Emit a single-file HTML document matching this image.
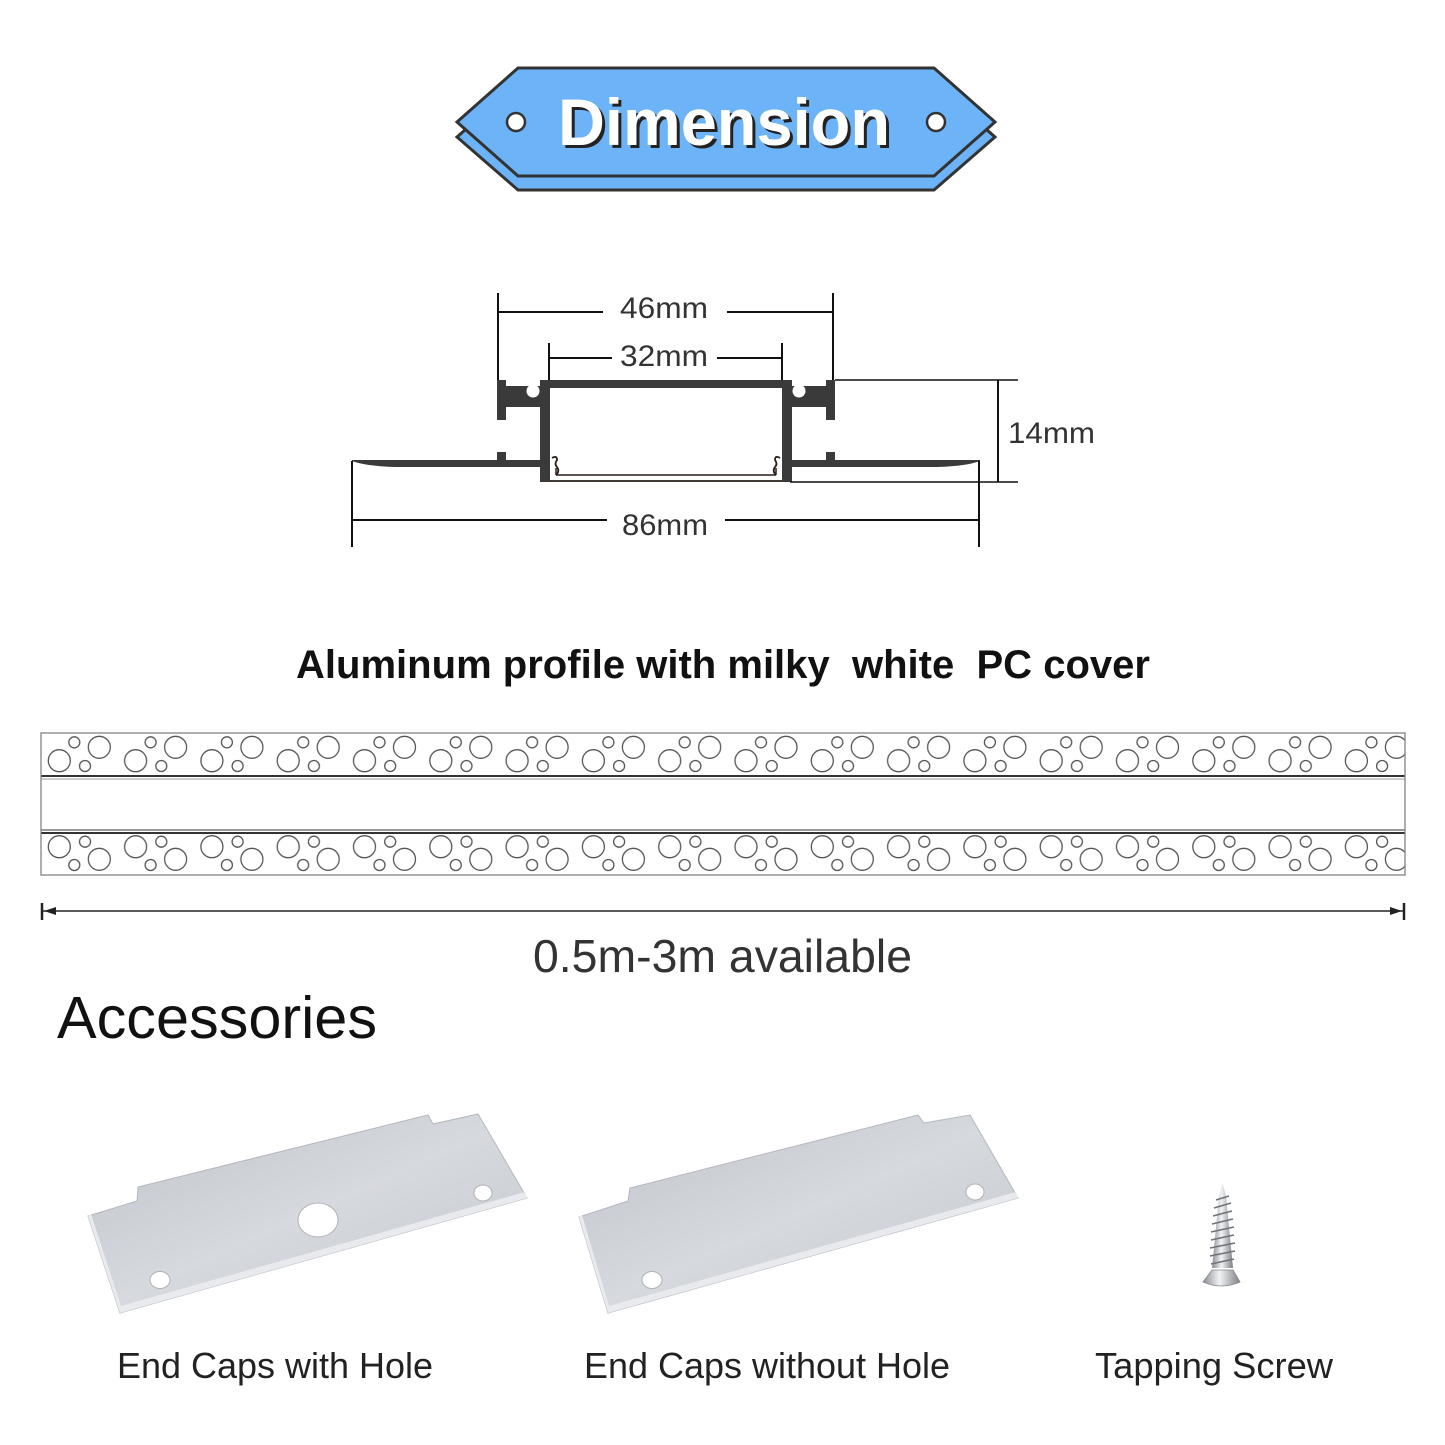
<!DOCTYPE html>
<html><head><meta charset="utf-8"><style>
html,body{margin:0;padding:0;background:#fff;}
svg{display:block;}
text{font-family:"Liberation Sans",Arial,sans-serif;}
</style></head><body>
<svg width="1445" height="1445" viewBox="0 0 1445 1445" xmlns="http://www.w3.org/2000/svg">
<defs>
  <linearGradient id="plate" x1="0" y1="0" x2="1" y2="1">
    <stop offset="0" stop-color="#bfc3ca"/>
    <stop offset="0.5" stop-color="#d6d9de"/>
    <stop offset="1" stop-color="#c3c7ce"/>
  </linearGradient>
  <linearGradient id="silver" x1="0" y1="0" x2="1" y2="0">
    <stop offset="0" stop-color="#8a8d92"/>
    <stop offset="0.45" stop-color="#f2f3f5"/>
    <stop offset="1" stop-color="#7d8086"/>
  </linearGradient>
  <pattern id="pTop" patternUnits="userSpaceOnUse" x="40" y="733" width="76.3" height="43">
    <g fill="none" stroke="#555" stroke-width="1.3">
      <circle cx="19.3" cy="27.7" r="11"/>
      <circle cx="34.3" cy="9.3" r="5.5"/>
      <circle cx="45" cy="33" r="5.5"/>
      <circle cx="59.3" cy="14.3" r="11"/>
    </g>
  </pattern>
  <pattern id="pBot" patternUnits="userSpaceOnUse" x="40" y="833" width="76.3" height="42">
    <g fill="none" stroke="#555" stroke-width="1.3">
      <circle cx="19.3" cy="13.7" r="11"/>
      <circle cx="45" cy="8.7" r="5.5"/>
      <circle cx="34.3" cy="32" r="5.5"/>
      <circle cx="59.3" cy="26.3" r="11"/>
    </g>
  </pattern>
  <g id="halfProfile">
    <rect x="497" y="380" width="9" height="40" fill="#3a3a3a"/>
    <rect x="497" y="386" width="45" height="21" fill="#3a3a3a"/>
    <rect x="540" y="380" width="10" height="102" fill="#3a3a3a"/>
    <circle cx="533" cy="391" r="6.5" fill="#fff"/>
    <rect x="497" y="452" width="9" height="9" fill="#3a3a3a"/>
    <path d="M352,460 L541,460 L541,467 L395,467 Q365,466 352,461 Z" fill="#3a3a3a"/>
    <path d="M552,458 q5,-3 5,2 q-3,4 0,7 q3,4 -1,8" fill="none" stroke="#2a1f1a" stroke-width="1.8"/>
    <line x1="556" y1="468" x2="556" y2="475" stroke="#2a1f1a" stroke-width="1.5"/>
  </g>
</defs>

<!-- Banner -->
<polygon points="457,137 518,83 934,83 995,137 934,190 518,190" fill="#6db3f7" stroke="#333" stroke-width="3" stroke-linejoin="miter"/>
<polygon points="457,122 518,68 934,68 995,122 934,176 518,176" fill="#6db3f7" stroke="#333" stroke-width="3" stroke-linejoin="miter"/>
<circle cx="516" cy="122" r="9" fill="#fff" stroke="#333" stroke-width="2.5"/>
<circle cx="936" cy="122" r="9" fill="#fff" stroke="#333" stroke-width="2.5"/>
<text x="561" y="148" font-size="66" font-weight="bold" fill="#222" textLength="332" lengthAdjust="spacingAndGlyphs">Dimension</text>
<text x="558" y="145" font-size="66" font-weight="bold" fill="#fff" textLength="332" lengthAdjust="spacingAndGlyphs">Dimension</text>

<!-- Profile -->
<use href="#halfProfile"/>
<use href="#halfProfile" transform="translate(1332,0) scale(-1,1)"/>
<rect x="548" y="380" width="236" height="8" fill="#3a3a3a"/>
<line x1="550" y1="481" x2="782" y2="481" stroke="#2a1f1a" stroke-width="1.8"/>
<line x1="556" y1="475" x2="776" y2="475" stroke="#2a1f1a" stroke-width="1.5"/>

<!-- Dimension lines -->
<g stroke="#111" stroke-width="2" fill="none">
  <line x1="498" y1="293" x2="498" y2="380"/>
  <line x1="833" y1="293" x2="833" y2="380"/>
  <line x1="498" y1="312" x2="603" y2="312"/>
  <line x1="727" y1="312" x2="833" y2="312"/>
  <line x1="549" y1="343" x2="549" y2="380"/>
  <line x1="782" y1="343" x2="782" y2="380"/>
  <line x1="549" y1="358" x2="612" y2="358"/>
  <line x1="717" y1="358" x2="782" y2="358"/>
  <line x1="835" y1="380" x2="1018" y2="380" stroke-width="1.6"/>
  <line x1="790" y1="482" x2="1018" y2="482" stroke-width="1.6"/>
  <line x1="998" y1="380" x2="998" y2="482"/>
  <line x1="352" y1="461" x2="352" y2="547"/>
  <line x1="979" y1="461" x2="979" y2="547"/>
  <line x1="352" y1="520" x2="607" y2="520"/>
  <line x1="725" y1="520" x2="979" y2="520"/>
</g>
<g font-size="30" fill="#333">
  <text x="620" y="318" textLength="88" lengthAdjust="spacingAndGlyphs">46mm</text>
  <text x="620" y="366" textLength="88" lengthAdjust="spacingAndGlyphs">32mm</text>
  <text x="1008" y="443" textLength="87" lengthAdjust="spacingAndGlyphs">14mm</text>
  <text x="622" y="535" textLength="86" lengthAdjust="spacingAndGlyphs">86mm</text>
</g>

<!-- Title -->
<text x="296" y="678" font-size="40" font-weight="bold" fill="#111" xml:space="preserve" textLength="854" lengthAdjust="spacingAndGlyphs">Aluminum profile with milky  white  PC cover</text>

<!-- Strip -->
<rect x="41" y="733" width="1364" height="142" fill="#fff" stroke="#888" stroke-width="1.2"/>
<rect x="41" y="733" width="1364" height="43" fill="url(#pTop)"/>
<rect x="41" y="833" width="1364" height="42" fill="url(#pBot)"/>
<line x1="41" y1="776" x2="1405" y2="776" stroke="#333" stroke-width="2"/>
<line x1="41" y1="779" x2="1405" y2="779" stroke="#bbb" stroke-width="1.5"/>
<line x1="41" y1="830" x2="1405" y2="830" stroke="#999" stroke-width="2"/>
<line x1="41" y1="833" x2="1405" y2="833" stroke="#333" stroke-width="2"/>
<rect x="41" y="733" width="1364" height="142" fill="none" stroke="#888" stroke-width="1.2"/>

<!-- Length arrow -->
<line x1="42" y1="911" x2="1404" y2="911" stroke="#222" stroke-width="1.5"/>
<line x1="42" y1="903" x2="42" y2="920" stroke="#222" stroke-width="2.5"/>
<line x1="1404" y1="903" x2="1404" y2="920" stroke="#222" stroke-width="2.5"/>
<polygon points="44,911 56,907 56,915" fill="#222"/>
<polygon points="1402,911 1390,907 1390,915" fill="#222"/>

<text x="533" y="972" font-size="46" fill="#333" textLength="379" lengthAdjust="spacingAndGlyphs">0.5m-3m available</text>
<text x="57" y="1038" font-size="59" fill="#111" textLength="320" lengthAdjust="spacingAndGlyphs">Accessories</text>

<!-- End cap with hole -->
<g>
  <polygon points="88,1216 137,1201 138,1187 428,1115 433,1124 478,1114 527,1198 120,1313" fill="url(#plate)" stroke="#b4b8bf" stroke-width="1"/>
  <polygon points="88,1216 120,1313 527,1198 525,1192 121,1306 91,1214" fill="#e8eaee"/>
  <ellipse cx="318" cy="1220" rx="20" ry="17" fill="#fff" stroke="#aeb2b8" stroke-width="1"/>
  <ellipse cx="160" cy="1280" rx="10" ry="8.5" fill="#fff" stroke="#aeb2b8" stroke-width="1"/>
  <ellipse cx="483" cy="1193" rx="9" ry="8" fill="#fff" stroke="#aeb2b8" stroke-width="1"/>
</g>
<!-- End cap without hole -->
<g>
  <polygon points="579,1217 628,1201 630,1188 918,1115 924,1123 970,1115 1018,1198 608,1313" fill="url(#plate)" stroke="#b4b8bf" stroke-width="1"/>
  <polygon points="579,1217 608,1313 1018,1198 1016,1192 609,1306 582,1215" fill="#e8eaee"/>
  <ellipse cx="652" cy="1280" rx="10" ry="8.5" fill="#fff" stroke="#aeb2b8" stroke-width="1"/>
  <ellipse cx="975" cy="1192" rx="9" ry="8" fill="#fff" stroke="#aeb2b8" stroke-width="1"/>
</g>
<!-- Screw -->
<g>
  <path d="M1222.5,1183 L1226,1196 L1233,1268 L1212,1268 L1219,1196 Z" fill="url(#silver)"/>
  <g stroke="#6f7277" stroke-width="1.6">
    <line x1="1216" y1="1200" x2="1229" y2="1196"/>
    <line x1="1214" y1="1208" x2="1231" y2="1203"/>
    <line x1="1213" y1="1216" x2="1232" y2="1211"/>
    <line x1="1212" y1="1224" x2="1233" y2="1219"/>
    <line x1="1211" y1="1232" x2="1234" y2="1227"/>
    <line x1="1211" y1="1240" x2="1234" y2="1235"/>
    <line x1="1210" y1="1248" x2="1235" y2="1243"/>
    <line x1="1210" y1="1256" x2="1235" y2="1251"/>
    <line x1="1211" y1="1264" x2="1234" y2="1259"/>
  </g>
  <path d="M1212,1270 L1233,1270 L1240,1282 Q1222,1290 1203,1282 Z" fill="url(#silver)" stroke="#888" stroke-width="0.8"/>
</g>

<!-- Labels -->
<g font-size="36" fill="#222">
  <text x="117" y="1378" textLength="316" lengthAdjust="spacingAndGlyphs">End Caps with Hole</text>
  <text x="584" y="1378" textLength="366" lengthAdjust="spacingAndGlyphs">End Caps without Hole</text>
  <text x="1095" y="1378" textLength="238" lengthAdjust="spacingAndGlyphs">Tapping Screw</text>
</g>
</svg>
</body></html>
